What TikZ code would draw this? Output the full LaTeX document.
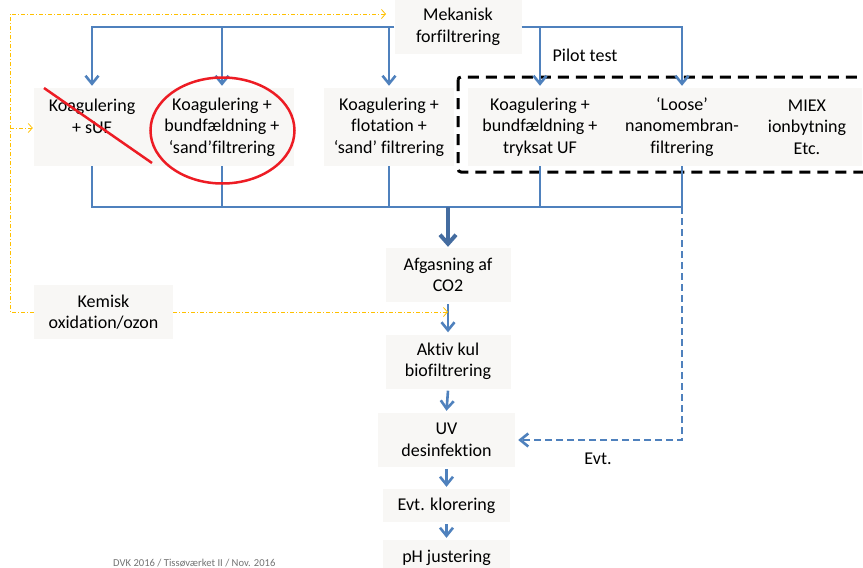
\documentclass[tikz,border=0pt]{standalone}
\usepackage{fontspec}
\setmainfont{Carlito}[Ligatures={NoCommon}]
\usetikzlibrary{arrows.meta}
\definecolor{flow}{RGB}{79,129,189}
\definecolor{flowdark}{RGB}{68,108,160}
\definecolor{boxbg}{RGB}{248,247,245}
\definecolor{opt}{RGB}{255,192,0}
\definecolor{mark}{RGB}{237,28,36}
\begin{document}
\begin{tikzpicture}[x=1pt,y=-1pt,
  box/.style={fill=boxbg, align=center, inner sep=0pt, font=\fontsize{18}{21.5}\selectfont},
  lbl/.style={inner sep=0pt, font=\fontsize{18}{21.5}\selectfont},
  flowline/.style={draw=flow, line width=2.6pt},
  tip/.style={-{Straight Barb[length=8pt,width=13pt]}},
  optline/.style={draw=opt, line width=0.8pt, dash pattern=on 4pt off 2pt on 1pt off 2pt},
  otip/.style={-{Straight Barb[length=4pt,width=9pt]}},
  pilotframe/.style={draw=black, line width=3pt, dash pattern=on 11pt off 7pt, rounded corners=3pt}
]
\useasboundingbox (0,0) rectangle (863,568);

% boxes
\node[box, minimum width=127, minimum height=54] (mek) at (458,27) {Mekanisk\\forfiltrering};
\node[box, minimum width=116, minimum height=78] (b1) at (92,127) {Koagulering\\+ sUF\\\mbox{}};
\node[box, minimum width=144, minimum height=78] (b2) at (222,127) {Koagulering +\\bundfældning +\\‘sand’filtrering};
\node[box, minimum width=130, minimum height=78] (b3) at (389,127) {Koagulering +\\flotation +\\‘sand’ filtrering};
\node[box, minimum width=144, minimum height=78] (b4) at (540,127) {Koagulering +\\bundfældning +\\tryksat UF};
\node[box, minimum width=141, minimum height=78] (b5) at (682,127) {‘Loose’\\nanomembran-\\filtrering};
\node[box, minimum width=110, minimum height=78] (b6) at (807,127) {MIEX\\ionbytning\\Etc.};

\node[box, minimum width=125, minimum height=54] (afg) at (448,275) {Afgasning af\\CO2};
\node[box, minimum width=125, minimum height=54] (akt) at (448,361.5) {Aktiv kul\\biofiltrering};
\node[box, minimum width=137, minimum height=54] (uv) at (446.5,440) {UV\\desinfektion};
\node[box, minimum width=127, minimum height=33] (klo) at (446.5,505.5) {Evt. klorering};
\node[box, minimum width=127, minimum height=36] (ph) at (446.5,558) {pH justering};
\node[box, minimum width=139, minimum height=54] (kem) at (103.5,312) {Kemisk\\oxidation/ozon};

% pilot frame
\draw[pilotframe] (458,77) rectangle (890,172);
\node[lbl] (pt) at (585,55) {Pilot test};

% top distribution
\draw[flowline, tip] (mek.west) -| ([yshift=2pt]b1.north);
\draw[flowline, tip] (b2.north |- mek.west) -- ([yshift=2pt]b2.north);
\draw[flowline, tip] (b3.north |- mek.west) -- ([yshift=2pt]b3.north);
\draw[flowline, tip] (mek.east) -| ([yshift=2pt]b5.north);
\draw[flowline, tip] (b4.north |- mek.east) -- ([yshift=2pt]b4.north);

% bottom collection
\coordinate (jy) at (0,207);
\draw[flowline] (b1.south) |- (b5.south |- jy) -- (b5.south);
\draw[flowline] (b2.south) -- (b2.south |- jy);
\draw[flowline] (b3.south) -- (b3.south |- jy);
\draw[flowline] (b4.south) -- (b4.south |- jy);
\draw[draw=flowdark, line width=4pt, -{Straight Barb[length=9pt,width=16pt]}] (afg.north |- jy) -- ([yshift=1pt]afg.north);
\draw[flowline, tip, dash pattern=on 7pt off 4pt] (b5.south |- jy) |- ([xshift=3pt]uv.east);
\node[lbl] (evt) at (598,459) {Evt.};

% main column
\draw[flowline, tip] ([yshift=-2pt]afg.south) -- ([yshift=2pt]akt.north);
\draw[flowline, tip] ([yshift=-2pt]akt.south) -- ([yshift=2pt]uv.north);
\draw[flowline, tip] ([yshift=-2pt]uv.south) -- ([yshift=2pt]klo.north);
\draw[flowline, tip] ([yshift=-2pt]klo.south) -- ([yshift=2pt]ph.north);

% optional (orange) paths
\coordinate (o1) at (10,14);
\coordinate (o2) at (10,128);
\coordinate (o1e) at (386,14);
\draw[optline, otip] (kem.west) -| (o1) -- (o1e);
\draw[optline, otip] (o2) -- ([xshift=-1pt]b1.west |- o2);
\draw[optline, otip] (kem.east) -- (afg.south |- kem.east);

% red marks
\draw[draw=mark, line width=2.5pt] (222.5,130.5) ellipse [x radius=72, y radius=53];
\draw[draw=mark, line width=2.5pt] (44,88) -- (152,163);

% footer
\node[anchor=base west, inner sep=0pt, text=black!55, font=\fontsize{10.6}{12}\selectfont] (foot) at (113,566) {DVK 2016 / Tissøværket II / Nov. 2016};
\end{tikzpicture}
\end{document}
